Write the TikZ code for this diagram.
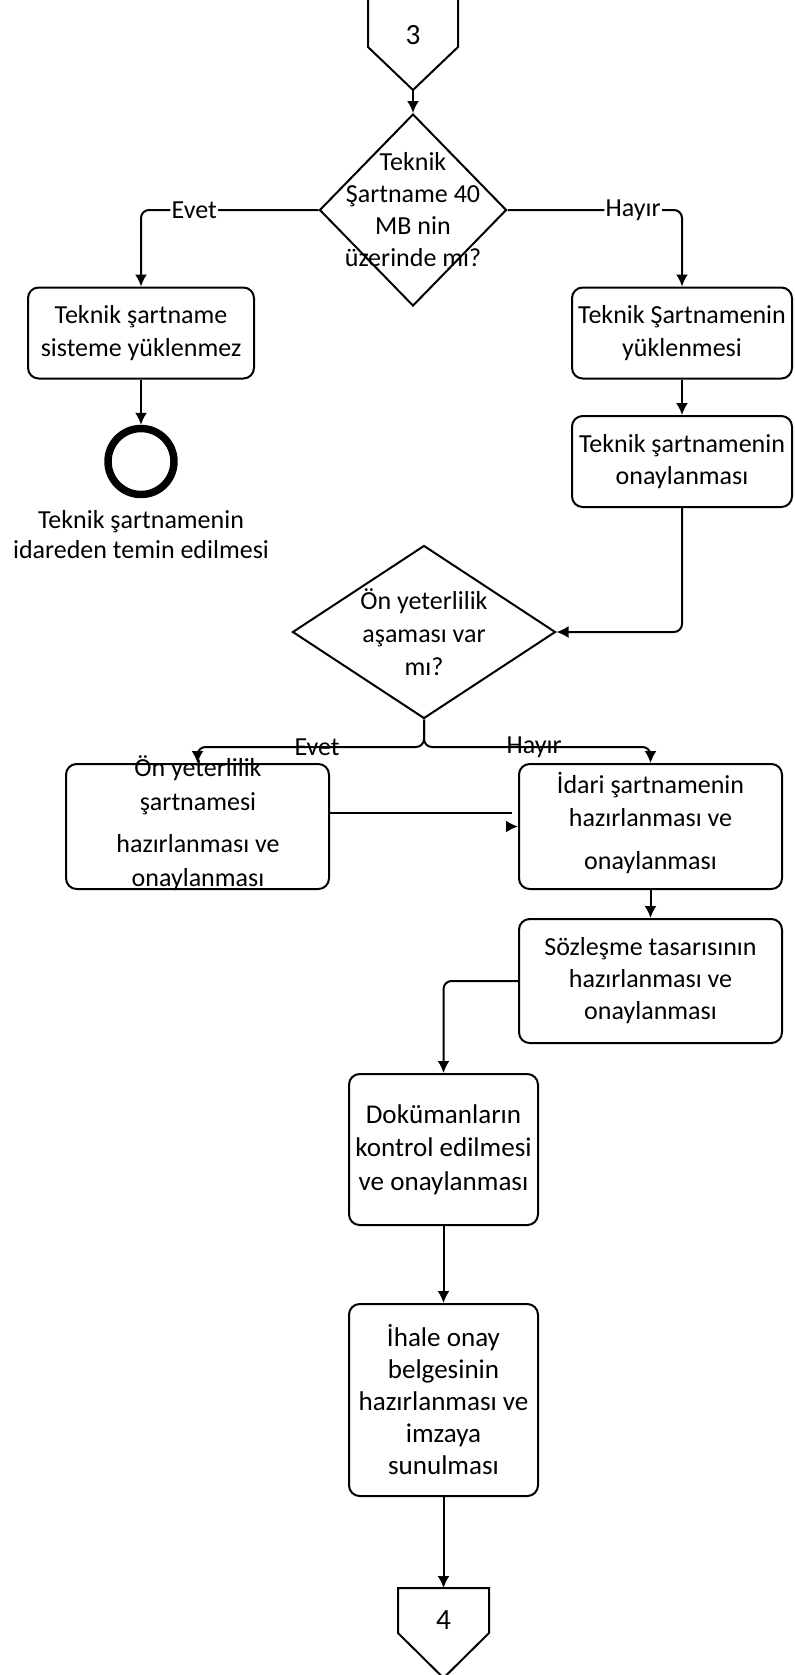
\documentclass[tikz,border=0pt]{standalone}
\usepackage{fontspec}
\setmainfont{Carlito}
\usetikzlibrary{shapes.geometric,arrows.meta}
\tikzset{%
  process/.style  = {shape=rectangle, rounded corners=8pt,%
                     draw, line width=1.5pt, align=center, inner sep=0pt},%
  decision/.style = {shape=diamond, draw, line width=1.5pt, inner sep=0pt},%
  endnode/.style  = {circle, draw, line width=5.6pt, minimum size=49.5pt, inner sep=0pt},%
  conn/.style     = {line width=1.5pt, line join=miter},%
  arr/.style      = {line width=1.5pt, rounded corners=6pt, -{Latex[length=9pt,width=9pt]}},%
  lbl/.style      = {inner sep=1pt}%
}

\begin{document}
\begin{tikzpicture}[x=0.75pt,y=-0.75pt,
		every node/.style = {font=\fontsize{19.5}{24.5}\selectfont}]
		\useasboundingbox (0,0) rectangle (794,1675);
		% off-page connector 3
		\draw[conn] (368,-3) -- (368,47) -- (413,90) -- (458,47) -- (458,-3);
		\node[font=\fontsize{22}{26}\selectfont] (c3) at (413,35) {3};
		\coordinate (c3tip) at (413,90);
		% first decision
		\node[decision, minimum width=140.25pt, minimum height=144pt] (d1) at (413,210) {};
		\node[align=center, font=\fontsize{19.5}{24}\selectfont] (d1txt) at (d1) {Teknik\\Şartname 40\\MB nin\\üzerinde mı?};
		\node[process, minimum width=169.5pt, minimum height=68.25pt] (b1) at (141,333) {Teknik şartname\\sisteme yüklenmez};
		\node[endnode] (e1) at (141,461.5) {};
		\node[align=center, font=\fontsize{19.5}{22.5}\selectfont] (e1txt) at (141,535) {Teknik şartnamenin\\idareden temin edilmesi};
		\node[process, minimum width=165pt, minimum height=68.25pt] (r1) at (682,333) {Teknik Şartnamenin\\yüklenmesi};
		\node[process, minimum width=165pt, minimum height=68.25pt] (r2) at (682,461.5) {Teknik şartnamenin\\onaylanması};
		% second decision
		\node[decision, minimum width=197.25pt, minimum height=129.75pt] (d2) at (424,632) {};
		\node[align=center] (d2txt) at (d2) {Ön yeterlilik\\aşaması var\\mı?};
		\coordinate (split) at (424,747);
		\node[process, minimum width=197.25pt, minimum height=93.75pt] (onyet) at (197.5,826.5) {};
		\node[align=center, font=\fontsize{19.5}{25}\selectfont] (onyettxt) at (198,823) {Ön yeterlilik\\şartnamesi\\[7pt]hazırlanması ve\\onaylanması};
		\node[process, minimum width=197.25pt, minimum height=93.75pt] (idari) at (650.5,826.5) {};
		\node[align=center, font=\fontsize{19.5}{25}\selectfont] (idaritxt) at (650.5,822.5) {İdari şartnamenin\\hazırlanması ve\\[7pt]onaylanması};
		\node[process, minimum width=197.25pt, minimum height=93pt, font=\fontsize{19.5}{24}\selectfont] (sozl) at (650.5,981) {Sözleşme tasarısının\\hazırlanması ve\\onaylanması};
		\node[process, minimum width=141.75pt, minimum height=113.25pt, font=\fontsize{20.3}{25}\selectfont] (dok) at (443.5,1149.5) {Dokümanların\\kontrol edilmesi\\ve onaylanması};
		\node[process, minimum width=141.75pt, minimum height=144pt, font=\fontsize{20.3}{24}\selectfont] (ihale) at (443.5,1400) {İhale onay\\belgesinin\\hazırlanması ve\\imzaya\\sunulması};
		% off-page connector 4
		\draw[conn] (398,1588) -- (489,1588) -- (489,1633) -- (443.5,1678) -- (398,1633) -- cycle;
		\node[font=\fontsize{22}{26}\selectfont] (c4) at (443.5,1620) {4};
		\coordinate (c4top) at (443.5,1588);
		% connectors
		\draw[arr] (c3tip) -- (d1.north);
		\draw[arr] (d1.west) -- node[lbl, pos=0.7, fill=white] {Evet} (b1.north |- d1.west) -- (b1.north);
		\draw[arr] (d1.east) -- node[lbl, pos=0.72, fill=white] {Hayır} (r1.north |- d1.east) -- (r1.north);
		\draw[arr] (b1.south) -- (e1.north);
		\draw[arr] (r1.south) -- (r2.north);
		\draw[arr] (r2.south) |- (d2.east);
		\draw[arr] (d2.south) -- (split) -| node[lbl, pos=0.236] {Evet} (onyet.north);
		\draw[arr] (d2.south) -- (split) -| node[lbl, pos=0.243] {Hayır} (idari.north);
		\draw[conn] ([yshift=10pt]onyet.east) -- ([xshift=-4.5pt, yshift=10pt]idari.west);
		\draw[arr] ([xshift=-9pt]idari.west) -- (idari.west);
		\draw[arr] (idari.south) -- (sozl.north);
		\draw[arr] (sozl.west) -| (dok.north);
		\draw[arr] (dok.south) -- (ihale.north);
		\draw[arr] (ihale.south) -- (c4top);
		\end{tikzpicture}
\end{document}
